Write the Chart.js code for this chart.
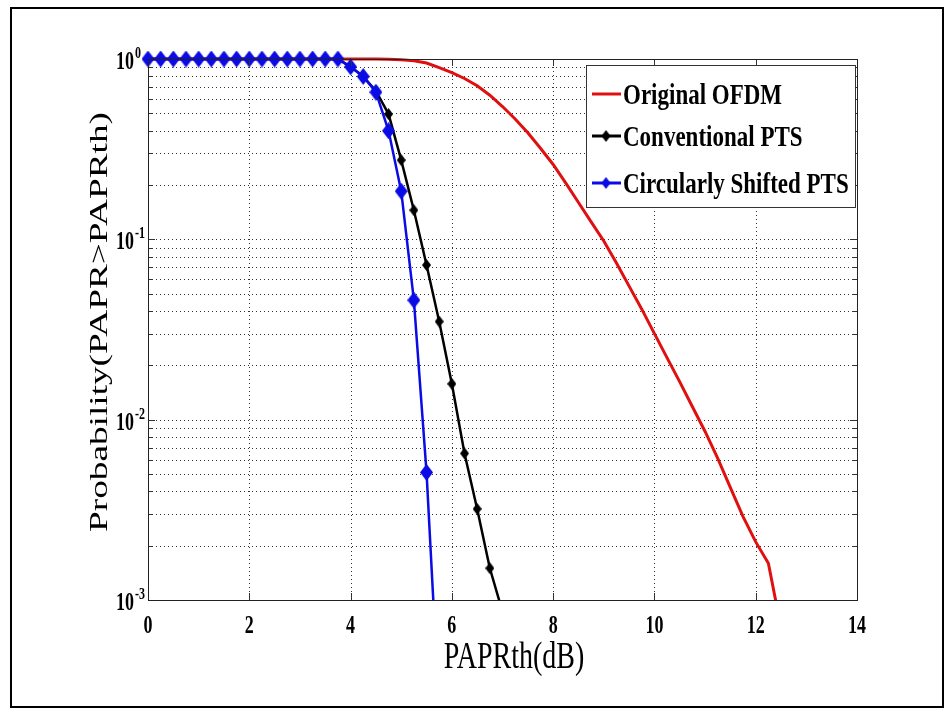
<!DOCTYPE html>
<html>
<head>
<meta charset="utf-8">
<script src="https://cdn.jsdelivr.net/npm/chart.js@4"></script>
<style>html,body{margin:0;background:#fff}</style>
</head>
<body>
<canvas id="c" width="946" height="709"></canvas>
<script>
// PAPR threshold (dB) for the PTS curves
const ptsX = [0,0.25,0.5,0.75,1,1.25,1.5,1.75,2,2.25,2.5,2.75,3,3.25,3.5,3.75,4,4.25,4.5,4.75,5,5.25,5.5,5.75,6,6.25,6.5,6.75,7];
const conventional = [1,1,1,1,1,1,1,1,1,1,1,1,1,1,1,1,0.905,0.80,0.665,0.495,0.275,0.145,0.072,0.035,0.0158,0.0065,0.0032,0.0015,0.00086];
const shifted = [1,1,1,1,1,1,1,1,1,1,1,1,1,1,1,1,0.905,0.80,0.655,0.40,0.185,0.046,0.0051,0.00024];

const origX = [0,0.25,0.5,0.75,1,1.25,1.5,1.75,2,2.25,2.5,2.75,3,3.25,3.5,3.75,4,4.25,4.5,4.75,5,5.25,5.5,5.75,6,6.25,6.5,6.75,7,7.25,7.5,7.75,8,8.25,8.5,8.75,9,9.25,9.5,9.75,10,10.25,10.5,10.75,11,11.25,11.5,11.75,12,12.25,12.5];
const original = [1,1,1,1,1,1,1,1,1,1,1,1,1,1,1,1,1,1,0.999,0.996,0.99,0.978,0.95,0.895,0.84,0.78,0.71,0.63,0.545,0.465,0.39,0.32,0.26,0.205,0.16,0.125,0.098,0.074,0.055,0.041,0.030,0.022,0.0162,0.0118,0.0086,0.0061,0.0042,0.0029,0.0021,0.0016,0.0007];

const seriesNames = ['Original OFDM', 'Conventional PTS', 'Circularly Shifted PTS'];
const xTicks = [0,2,4,6,8,10,12,14];
const yDecades = [0.001,0.01,0.1,1];
const yExp = ['-3','-2','-1','0'];
const yMinor = [2,3,4,5,6,7,8,9];

const RED = '#e01010', BLUE = '#0b0be6';
const serif = '"Liberation Serif", "Times New Roman", serif';

function diamond(w, h, fill) {
  const c = document.createElement('canvas');
  c.width = w; c.height = h;
  const g = c.getContext('2d');
  g.fillStyle = fill;
  g.beginPath();
  g.moveTo(w / 2, 0); g.lineTo(w, h / 2); g.lineTo(w / 2, h); g.lineTo(0, h / 2);
  g.closePath(); g.fill();
  return c;
}
const blueMark = diamond(13, 17, BLUE);
const blackMark = diamond(9, 12, '#000');

function stretchText(ctx, t, x, y, font, sy, align) {
  ctx.save();
  ctx.translate(x, y);
  ctx.scale(1, sy);
  ctx.font = font;
  ctx.textAlign = align;
  ctx.textBaseline = 'alphabetic';
  ctx.fillText(t, 0, 0);
  ctx.restore();
}

const yGrid = [];
yDecades.forEach((d, i) => {
  yGrid.push(d);
  if (i < yDecades.length - 1) yMinor.forEach(m => yGrid.push(m * d));
});

// dotted matlab-style grid, drawn under the curves
const dotGrid = {
  id: 'dotGrid',
  beforeDatasetsDraw(chart) {
    const { ctx, chartArea: a } = chart;
    const xs = chart.scales.x, ys = chart.scales.y;
    ctx.save();
    ctx.strokeStyle = '#333';
    ctx.lineWidth = 1;
    ctx.setLineDash([1, 3]);
    ctx.beginPath();
    xTicks.slice(1, -1).forEach(v => {
      const px = Math.round(xs.getPixelForValue(v)) + 0.5;
      ctx.moveTo(px, a.top); ctx.lineTo(px, a.bottom);
    });
    yGrid.slice(1, -1).forEach(v => {
      const py = Math.round(ys.getPixelForValue(v)) + 0.5;
      ctx.moveTo(a.left, py); ctx.lineTo(a.right, py);
    });
    ctx.stroke();
    ctx.restore();
  }
};

const decor = {
  id: 'decor',
  afterDraw(chart) {
    const { ctx, chartArea: a } = chart;
    const xs = chart.scales.x, ys = chart.scales.y;
    ctx.save();

    // inner tick marks
    ctx.strokeStyle = '#333';
    ctx.lineWidth = 1;
    ctx.beginPath();
    xTicks.forEach(v => {
      const px = Math.round(xs.getPixelForValue(v)) + 0.5;
      ctx.moveTo(px, a.bottom); ctx.lineTo(px, a.bottom - 7);
      ctx.moveTo(px, a.top); ctx.lineTo(px, a.top + 7);
    });
    yGrid.forEach(v => {
      const py = Math.round(ys.getPixelForValue(v)) + 0.5;
      const len = yDecades.includes(v) ? 7 : 4;
      ctx.moveTo(a.left, py); ctx.lineTo(a.left + len, py);
      ctx.moveTo(a.right, py); ctx.lineTo(a.right - len, py);
    });
    ctx.stroke();

    // axes box
    ctx.strokeStyle = '#222';
    ctx.strokeRect(Math.round(a.left) + 0.5, Math.round(a.top) + 0.5, Math.round(a.right - a.left), Math.round(a.bottom - a.top));

    // tick labels
    ctx.fillStyle = '#000';
    xTicks.forEach(v => {
      stretchText(ctx, String(v), xs.getPixelForValue(v), a.bottom + 33, 'bold 18px ' + serif, 1.42, 'center');
    });
    yDecades.forEach((v, i) => {
      const py = ys.getPixelForValue(v);
      stretchText(ctx, '10', a.left - 14, py + 10, 'bold 18px ' + serif, 1.42, 'right');
      stretchText(ctx, yExp[i], a.left - 13, py - 1, 'bold 12px ' + serif, 1.4, 'left');
    });

    // axis titles
    stretchText(ctx, 'PAPRth(dB)', 514, a.bottom + 68, '28px ' + serif, 1.33, 'center');
    ctx.save();
    ctx.translate(107, 322);
    ctx.rotate(-Math.PI / 2);
    ctx.scale(1.49, 1);
    ctx.font = '25px ' + serif;
    ctx.textAlign = 'center';
    ctx.textBaseline = 'alphabetic';
    ctx.fillText('Probability(PAPR>PAPRth)', 0, 0);
    ctx.restore();

    // legend
    const lx = 586, ly = 65, lw = 269, lh = 142;
    ctx.fillStyle = '#fff';
    ctx.fillRect(lx, ly, lw, lh);
    ctx.strokeStyle = '#333';
    ctx.lineWidth = 1;
    ctx.strokeRect(lx + 0.5, ly + 0.5, lw, lh);
    const rows = [94, 136, 183];
    const cols = [RED, '#000', BLUE];
    const marks = [null, blackMark, diamond(9, 12, BLUE)];
    rows.forEach((ry, i) => {
      ctx.strokeStyle = cols[i];
      ctx.lineWidth = 3;
      ctx.beginPath(); ctx.moveTo(592, ry); ctx.lineTo(621, ry); ctx.stroke();
      if (marks[i]) ctx.drawImage(marks[i], 606 - marks[i].width / 2, ry - marks[i].height / 2);
      ctx.fillStyle = '#000';
      stretchText(ctx, seriesNames[i], 623, ry + 10, 'bold 23px ' + serif, 1.32, 'left');
    });

    // outer frame
    ctx.strokeStyle = '#000';
    ctx.lineWidth = 2;
    ctx.strokeRect(11, 8, 932, 699);
    ctx.restore();
  }
};

new Chart(document.getElementById('c'), {
  type: 'line',
  data: {
    datasets: [
      { label: seriesNames[0], data: origX.map((x, i) => ({ x, y: original[i] })),
        borderColor: RED, borderWidth: 3, pointRadius: 0, order: 2,
        clip: { left: 0, top: 3, right: 0, bottom: 0 } },
      { label: seriesNames[1], data: ptsX.map((x, i) => ({ x, y: conventional[i] })),
        borderColor: '#000', borderWidth: 2.5, pointStyle: blackMark, pointRadius: 5, order: 1,
        clip: { left: 10, top: 10, right: 0, bottom: 0 } },
      { label: seriesNames[2], data: ptsX.slice(0, shifted.length).map((x, i) => ({ x, y: shifted[i] })),
        borderColor: BLUE, borderWidth: 2.5, pointStyle: blueMark, pointRadius: 6, order: 0,
        clip: { left: 10, top: 10, right: 0, bottom: 0 } }
    ]
  },
  options: {
    responsive: false,
    animation: false,
    layout: { padding: { left: 148, top: 59, right: 89, bottom: 109 } },
    plugins: { legend: { display: false }, tooltip: { enabled: false } },
    scales: {
      x: {
        type: 'linear', min: 0, max: 14,
        ticks: { display: false },
        grid: { display: false },
        border: { display: false },
        afterBuildTicks: s => { s.ticks = xTicks.map(v => ({ value: v })); },
        afterFit: s => { s.height = 0; }
      },
      y: {
        type: 'logarithmic', min: 0.001, max: 1,
        ticks: { display: false },
        grid: { display: false },
        border: { display: false },
        afterBuildTicks: s => { s.ticks = yGrid.map(v => ({ value: v })); },
        afterFit: s => { s.width = 0; }
      }
    }
  },
  plugins: [dotGrid, decor]
});
</script>
</body>
</html>
